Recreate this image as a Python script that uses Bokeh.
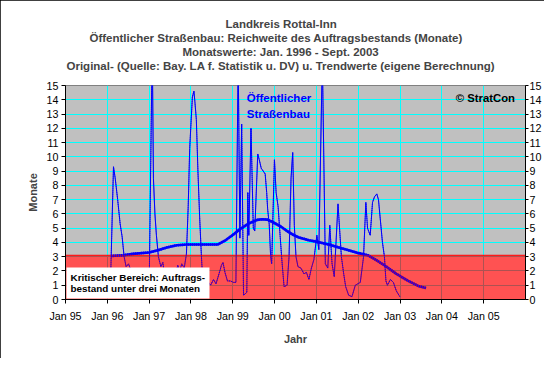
from bokeh.plotting import figure
from bokeh.models import Range1d, LinearAxis, FixedTicker, Title, Label
from bokeh.embed import file_html
from bokeh.resources import INLINE

# ---------------- data (x in months since Jan 1995) ----------------
title_lines = [
    "Landkreis Rottal-Inn",
    "Öffentlicher Straßenbau: Reichweite  des Auftragsbestands (Monate)",
    "Monatswerte: Jan. 1996 - Sept. 2003",
    "Original- (Quelle: Bay. LA f. Statistik u. DV) u. Trendwerte (eigene Berechnung)",
]
# left indent of each title line relative to the plot frame (px)
title_indent = [160, 24, 117, 1]

x_ticks = [0, 12, 24, 36, 48, 60, 72, 84, 96, 108, 120]
x_tick_labels = ["Jan 95", "Jan 96", "Jan 97", "Jan 98", "Jan 99", "Jan 00",
                 "Jan 01", "Jan 02", "Jan 03", "Jan 04", "Jan 05"]
x_end = 132
y_ticks = list(range(0, 16))
critical_level = 3.1

raw_month = [12.9, 13.77, 14.26, 14.97, 15.68, 16.25, 16.82, 17.39, 18.10, 18.82,
             19.67, 20.81, 21.95, 23.09, 24.03, 24.89, 25.23, 25.66, 26.09, 26.66,
             27.37, 27.94, 28.51, 29.37, 30.51, 31.65, 32.22, 32.79, 33.36, 34.07,
             34.70, 35.21, 35.64, 36.41, 36.86, 37.15, 37.55, 38.00, 38.49, 38.97,
             39.34, 39.91, 40.77, 41.62, 42.48, 43.19, 44.05, 44.76, 45.19, 45.76,
             46.47, 47.33, 48.18, 48.90, 49.55, 50.04, 50.55, 51.09, 52.03, 52.32,
             52.60, 53.23, 53.89, 54.31, 55.17, 55.60, 56.16, 56.74, 57.30, 57.73,
             58.02, 58.45, 58.87, 59.16, 59.96, 60.44, 61.01, 61.58, 62.01, 62.72,
             63.58, 64.15, 64.72, 65.20, 65.66, 66.14, 66.71, 67.57, 68.43, 69.14,
             69.85, 70.56, 71.28, 72.13, 72.70, 73.70, 74.56, 75.27, 75.84, 76.49,
             77.12, 78.20, 78.69, 79.17, 79.83, 80.40, 81.25, 82.20, 83.16, 84.59,
             85.53, 86.19, 86.67, 87.44, 88.10, 88.67, 89.33, 89.81, 90.38, 90.95,
             91.52, 91.95, 92.37, 93.23, 94.09, 94.94, 95.94]
raw_value = [1.0, 9.3, 8.5, 7.0, 5.3, 4.4, 3.0, 2.3, 2.5, 2.0,
             1.2, 1.0, 1.0, 1.0, 1.2, 18.0, 8.5, 6.0, 4.5, 3.0,
             2.3, 2.6, 1.5, 1.0, 1.2, 1.8, 2.4, 2.0, 2.5, 2.2,
             3.2, 6.5, 10.6, 14.2, 14.6, 13.8, 12.6, 9.0, 5.8, 3.2,
             1.5, 0.5, 1.3, 1.0, 1.4, 1.1, 1.8, 2.4, 2.6, 1.9,
             1.3, 1.3, 1.2, 1.2, 17.0, 4.3, 12.3, 0.3, 0.5, 7.5,
             4.5, 12.0, 5.0, 4.8, 10.2, 9.8, 9.2, 9.0, 8.8, 7.5,
             6.3, 5.3, 3.0, 2.5, 9.8, 7.5, 6.5, 4.5, 3.0, 0.9,
             1.0, 3.0, 8.5, 10.3, 5.2, 3.0, 2.3, 2.2, 1.8, 1.9,
             1.4, 2.2, 2.8, 4.5, 3.5, 17.0, 2.5, 2.2, 5.2, 2.5,
             1.6, 6.7, 4.8, 3.0, 1.8, 0.9, 0.3, 0.2, 1.0, 1.2,
             3.0, 6.8, 5.0, 4.5, 6.8, 7.2, 7.4, 7.0, 5.5, 4.0,
             3.0, 1.3, 1.0, 1.4, 1.2, 0.6, 0.2]

trend_month = [13.11, 16.54, 19.39, 23.95, 26.51, 29.08, 31.93, 34.78, 38.49, 43.62,
               45.90, 47.90, 50.18, 52.74, 55.03, 56.45, 57.88, 59.30, 61.87, 63.58,
               65.58, 67.00, 69.85, 72.70, 75.55, 78.40, 81.25, 84.11, 86.96, 88.95,
               91.80, 94.94, 98.36, 101.21, 103.49]
trend_value = [3.05, 3.1, 3.2, 3.3, 3.45, 3.65, 3.8, 3.85, 3.85, 3.85,
               4.15, 4.5, 4.95, 5.35, 5.58, 5.63, 5.6, 5.45, 5.1, 4.8,
               4.5, 4.35, 4.15, 4.02, 3.85, 3.65, 3.45, 3.25, 3.08, 2.8,
               2.35, 1.8, 1.3, 0.95, 0.8]

FONT = "Liberation Sans"
BLUE = "#0000FF"

p = figure(width=544, height=358, output_backend="svg", toolbar_location=None,
           x_range=Range1d(0, x_end), y_range=Range1d(0, y_ticks[-1]),
           min_border_left=65, min_border_right=16, min_border_top=85,
           min_border_bottom=59, background_fill_color="#C0C0C0",
           border_fill_color="white")
p.outline_line_color = "#808080"
p.styles = {"outline": "1px solid black", "outline-offset": "-1px"}

# titles: p.title is outermost; added titles stack from the plot outward
def style_title(t, indent):
    t.align = "left"
    t.offset = indent
    t.text_font = FONT
    t.text_font_size = "11.5px"
    t.text_font_style = "bold"
    t.standoff = 0

p.title.text = title_lines[0]
style_title(p.title, title_indent[0])
spacer = Title(text=" ")
style_title(spacer, 0)
p.add_layout(spacer, "above")
for line, indent in zip(reversed(title_lines[1:]), reversed(title_indent[1:])):
    t = Title(text=line)
    style_title(t, indent)
    p.add_layout(t, "above")

# grids
p.xgrid.ticker = FixedTicker(ticks=x_ticks)
p.ygrid.ticker = FixedTicker(ticks=y_ticks)
for g in (p.xgrid, p.ygrid):
    g.grid_line_color = "#00FFFF"
    g.grid_line_width = 1

# axes
def style_axis(ax):
    ax.axis_line_color = "black"
    ax.major_tick_line_color = "black"
    ax.minor_tick_line_color = None
    ax.major_tick_out = 4
    ax.major_tick_in = 0
    ax.major_label_text_font = FONT
    ax.major_label_text_font_size = "10.7px"
    ax.major_label_text_color = "black"
    ax.axis_label_text_font = FONT
    ax.axis_label_text_font_size = "11px"
    ax.axis_label_text_font_style = "bold"

xa = p.xaxis[0]
xa.ticker = FixedTicker(ticks=x_ticks)
xa.major_label_overrides = {t: l for t, l in zip(x_ticks, x_tick_labels)}
xa.axis_label = "Jahr"
style_axis(xa)
xa.major_label_standoff = 6
xa.axis_label_standoff = 8

ya = p.yaxis[0]
ya.ticker = FixedTicker(ticks=y_ticks)
ya.axis_label = "Monate"
style_axis(ya)
ya.major_label_standoff = 3
ya.axis_label_standoff = 5

ra = LinearAxis(ticker=FixedTicker(ticks=y_ticks))
style_axis(ra)
ra.major_tick_out = 3
ra.major_label_standoff = 1
p.add_layout(ra, "right")

# critical zone: white base (under grid), lines, translucent red overlay,
# then dashed copies of the lines so they read as dotted inside the zone
p.quad(left=0, right=x_end, bottom=0, top=critical_level,
       fill_color="white", line_color=None, level="image")
p.line(raw_month, raw_value, line_color=BLUE, line_width=1)
p.line(trend_month, trend_value, line_color=BLUE, line_width=2.6)
p.quad(left=0, right=x_end, bottom=0, top=critical_level,
       fill_color="#FF0000", fill_alpha=0.68, line_color="#FF0000", line_width=1)
p.line(raw_month, raw_value, line_color=BLUE, line_width=1, line_dash="1 1")
p.line(trend_month, trend_value, line_color=BLUE, line_width=2.6, line_dash="1 1")

# annotations
p.add_layout(Label(x=0, y=0, x_offset=1, y_offset=1,
                   text="Kritischer Bereich: Auftrags-\nbestand unter drei Monaten",
                   text_font=FONT, text_font_size="9.9px", text_font_style="bold",
                   text_color="black", text_align="left", text_baseline="bottom",
                   text_line_height=1.08,
                   background_fill_color="white", padding=4))
p.add_layout(Label(x=52.0, y=14.55, text="Öffentlicher\nStraßenbau",
                   text_font=FONT, text_font_size="11.5px", text_font_style="bold",
                   text_color=BLUE, text_align="left", text_baseline="top",
                   text_line_height=1.3))
p.add_layout(Label(x=112.0, y=14.55, text="© StratCon",
                   text_font=FONT, text_font_size="11.3px", text_font_style="bold",
                   text_color="black", text_align="left", text_baseline="top"))

open("out.html", "w").write(file_html(p, INLINE))
